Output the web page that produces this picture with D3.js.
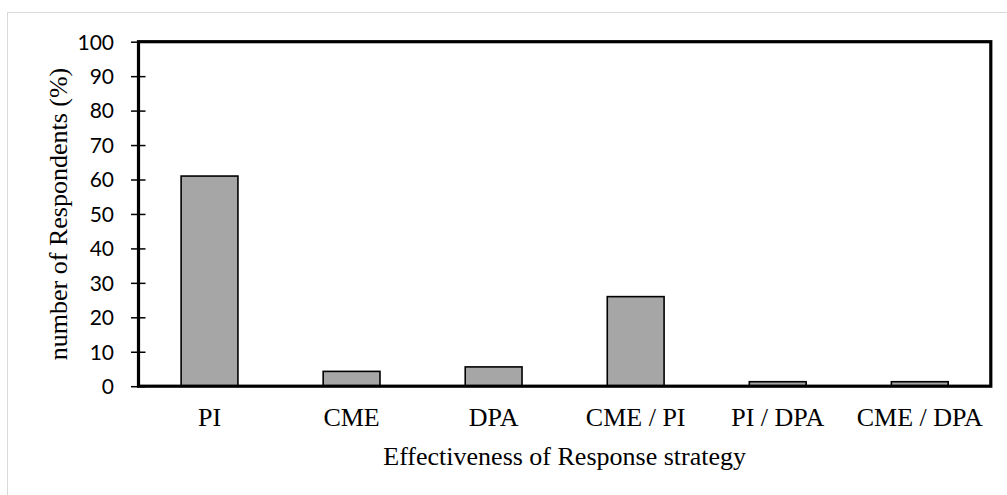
<!DOCTYPE html>
<html><head><meta charset="utf-8">
<script src="https://cdn.jsdelivr.net/npm/d3@7"></script>
<style>html,body{margin:0;padding:0;background:#fff;}svg{display:block;}</style>
</head><body>
<svg id="chart" width="1007" height="495"></svg>
<script>
const categories = ["PI", "CME", "DPA", "CME / PI", "PI / DPA", "CME / DPA"];
const values = [61, 4.3, 5.6, 26, 1.3, 1.3];
const yTicks = [0, 10, 20, 30, 40, 50, 60, 70, 80, 90, 100];
const xTitle = "Effectiveness of Response strategy";
const yTitle = "number of Respondents (%)";

const svg = d3.select("#chart");
const L = 138.5, R = 990.8, T = 41.7, B = 386.2;

svg.append("rect").attr("x", 7.5).attr("y", 12.5).attr("width", 1100).attr("height", 600)
  .attr("fill", "none").attr("stroke", "#d9d9d9").attr("stroke-width", 1);

const x = d3.scaleBand().domain(categories).range([L, R]).paddingInner(0.6).paddingOuter(0.3);
const y = d3.scaleLinear().domain([0, 100]).range([B, T]);

// bars
svg.append("g").selectAll("rect").data(categories).join("rect")
  .attr("x", d => x(d))
  .attr("y", (d, i) => y(values[i]))
  .attr("width", x.bandwidth())
  .attr("height", (d, i) => y(0) - y(values[i]))
  .attr("fill", "#a6a6a6").attr("stroke", "#000").attr("stroke-width", 1.6);

// y axis with cross ticks
const yAxis = d3.axisLeft(y).tickValues(yTicks).tickSizeInner(7.5).tickSizeOuter(0).tickPadding(17);
const gy = svg.append("g").attr("transform", `translate(${L},0)`).call(yAxis);
gy.select(".domain").remove();
gy.selectAll(".tick line").attr("x2", -7.5).attr("x1", 7).attr("stroke", "#000").attr("stroke-width", 1.5);
gy.selectAll(".tick text").attr("font-family", "Lato, 'Open Sans', sans-serif").attr("font-size", 21)
  .attr("fill", "#000").attr("x", -24.5).attr("dy", "0.35em");

// x axis labels
const xAxis = d3.axisBottom(x).tickSize(0).tickPadding(0);
const gx = svg.append("g").attr("transform", `translate(0,${B})`).call(xAxis);
gx.select(".domain").remove();
gx.selectAll(".tick text").attr("font-family", "'Liberation Serif', 'Times New Roman', serif")
  .attr("font-size", 26).attr("fill", "#000").attr("dy", 0).attr("y", 40);

// frame
svg.append("rect").attr("x", L).attr("y", T).attr("width", R - L).attr("height", B - T)
  .attr("fill", "none").attr("stroke", "#000").attr("stroke-width", 3.2);

// titles
svg.append("text").attr("x", (L + R) / 2).attr("y", 465).attr("text-anchor", "middle")
  .attr("font-family", "'Liberation Serif', 'Times New Roman', serif").attr("font-size", 26)
  .attr("fill", "#000").text(xTitle);
svg.append("text").attr("transform", `translate(67,${(T + B) / 2}) rotate(-90)`).attr("text-anchor", "middle")
  .attr("font-family", "'Liberation Serif', 'Times New Roman', serif").attr("font-size", 26)
  .attr("fill", "#000").text(yTitle);
</script>
</body></html>
